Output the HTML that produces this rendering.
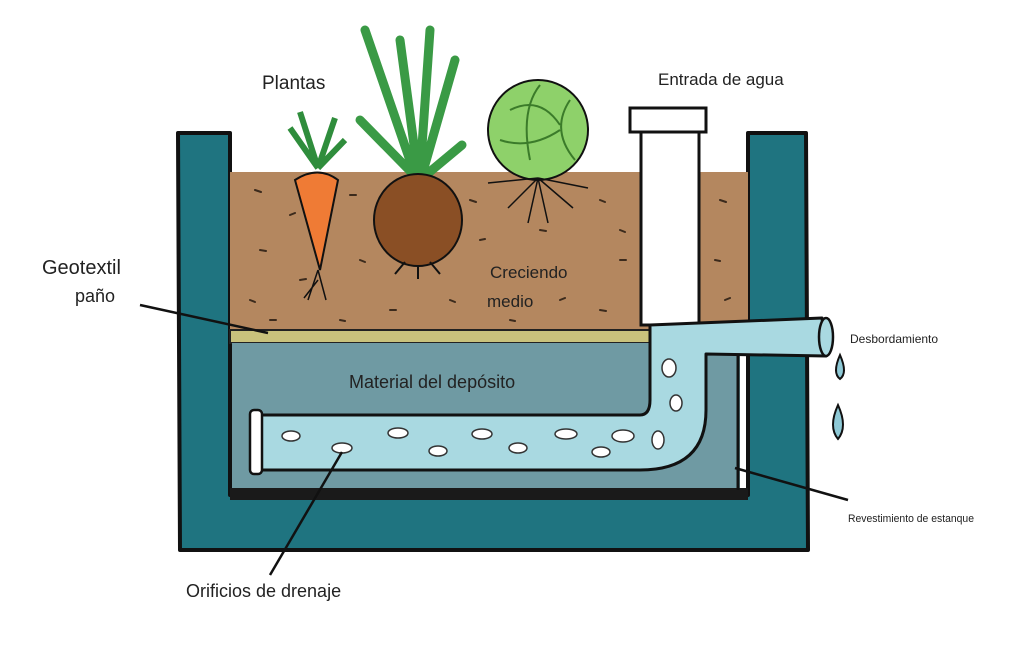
<!DOCTYPE html>
<html><head><meta charset="utf-8"><style>
html,body{margin:0;padding:0;background:#fff;}
svg{display:block;}
text{font-family:"Liberation Sans",sans-serif;fill:#222;}
</style></head><body>
<svg width="1024" height="660" viewBox="0 0 1024 660" xmlns="http://www.w3.org/2000/svg">
<rect width="1024" height="660" fill="#fff"/>
<!-- outer container -->
<path d="M178,133 L230,133 L230,495 L748,495 L748,133 L806,133 L808,550 L180,550 Z" fill="#1f7480" stroke="#111" stroke-width="4" stroke-linejoin="round"/>
<!-- soil -->
<rect x="230" y="172" width="518" height="162" fill="#b4875f"/>
<!-- geotextile -->
<rect x="230" y="330" width="420" height="13" fill="#c9c27c" stroke="#222" stroke-width="2"/>
<!-- reservoir -->
<rect x="232" y="343" width="508" height="145" fill="#6f9aa3"/>
<path d="M230,488 L748,488 L748,500 L230,500 Z" fill="#1a1a1a"/>
<path d="M738,343 L738,490" stroke="#111" stroke-width="3"/>
<!-- soil specks -->
<g stroke="#3b2a1c" stroke-width="2" stroke-linecap="round">
<path d="M255,190l6,2M290,215l5,-2M260,250l6,1M250,300l5,2M350,195l6,0M360,260l5,2M300,280l6,-1M470,200l6,2M480,240l5,-1M540,230l6,1M600,200l5,2M620,260l6,0M560,300l5,-2M600,310l6,1M450,300l5,2M390,310l6,0M340,320l5,1M720,200l6,2M715,260l5,1M725,300l5,-2M270,320l6,0M510,320l5,1M620,230l5,2"/>
</g>
<!-- inlet pipe -->
<rect x="641" y="120" width="58" height="205" fill="#fff" stroke="#111" stroke-width="3"/>
<rect x="630" y="108" width="76" height="24" fill="#fff" stroke="#111" stroke-width="3"/>
<!-- drain pipe -->
<path d="M258,415 L640,415 Q650,415 650,400 L650,325 L822,318 L826,356 L706,354 L706,410 Q706,470 640,470 L258,470 Z" fill="#a9d9e1" stroke="#111" stroke-width="3" stroke-linejoin="round"/>
<rect x="250" y="410" width="12" height="64" rx="4" fill="#fff" stroke="#111" stroke-width="2.5"/>
<ellipse cx="826" cy="337" rx="7" ry="19" fill="#a9d9e1" stroke="#111" stroke-width="2.5"/>
<g fill="#fff" stroke="#333" stroke-width="1.5">
<ellipse cx="291" cy="436" rx="9" ry="5"/><ellipse cx="342" cy="448" rx="10" ry="5"/><ellipse cx="398" cy="433" rx="10" ry="5"/><ellipse cx="438" cy="451" rx="9" ry="5"/><ellipse cx="482" cy="434" rx="10" ry="5"/><ellipse cx="518" cy="448" rx="9" ry="5"/><ellipse cx="566" cy="434" rx="11" ry="5"/><ellipse cx="601" cy="452" rx="9" ry="5"/><ellipse cx="623" cy="436" rx="11" ry="6"/><ellipse cx="658" cy="440" rx="6" ry="9"/><ellipse cx="676" cy="403" rx="6" ry="8"/><ellipse cx="669" cy="368" rx="7" ry="9"/>
</g>
<!-- drops -->
<g fill="#8ec9d6" stroke="#111" stroke-width="2">
<path d="M840,355 q-8,18 0,24 q8,-6 0,-24z"/><path d="M838,405 q-10,22 0,34 q10,-12 0,-34z"/>
</g>
<!-- carrot -->
<g stroke="#111" stroke-width="2">
<path d="M295,180 Q318,165 338,180 L320,270 Z" fill="#ef7b35"/>
<path d="M318,168 L290,128 M318,168 L300,112 M318,168 L335,118 M318,168 L345,140" stroke="#2f8d3c" stroke-width="6" fill="none"/>
<path d="M318,270 l-10,30 M318,270 l8,30 M318,280 l-14,18" fill="none" stroke-width="1.5"/>
</g>
<!-- onion -->
<g stroke="#111" stroke-width="2">
<path d="M415,175 L365,30 M418,175 L400,40 M420,175 L430,30 M422,175 L455,60 M414,175 L360,120 M426,175 L462,145" stroke="#3a9a45" stroke-width="9" fill="none" stroke-linecap="round"/>
<ellipse cx="418" cy="220" rx="44" ry="46" fill="#8a4f25"/>
<path d="M405,262 l-10,12 M418,265 l0,14 M430,262 l10,12" fill="none"/>
</g>
<!-- cabbage -->
<g stroke="#111" stroke-width="2">
<circle cx="538" cy="130" r="50" fill="#8ed16a"/>
<path d="M510,110 Q540,95 560,125 M500,140 Q530,150 560,130 M540,85 Q520,110 530,160 M570,100 Q550,130 575,160" fill="none" stroke="#3b7b2a"/>
<path d="M538,178 l-30,30 M538,178 l-10,45 M538,178 l10,45 M538,178 l35,30 M538,178 l50,10 M538,178 l-50,5" fill="none" stroke-width="1.5"/>
</g>
<!-- leader lines -->
<g stroke="#111" stroke-width="2.5" fill="none">
<line x1="140" y1="305" x2="268" y2="333"/>
<line x1="342" y1="452" x2="270" y2="575"/>
<line x1="735" y1="468" x2="848" y2="500"/>
</g>
<!-- labels -->
<text x="262" y="89" font-size="19">Plantas</text>
<text x="658" y="85" font-size="17">Entrada de agua</text>
<text x="42" y="274" font-size="20">Geotextil</text>
<text x="75" y="302" font-size="18">paño</text>
<text x="490" y="278" font-size="17">Creciendo</text>
<text x="487" y="307" font-size="17">medio</text>
<text x="349" y="388" font-size="18">Material del depósito</text>
<text x="850" y="343" font-size="12">Desbordamiento</text>
<text x="848" y="522" font-size="11" textLength="126" lengthAdjust="spacingAndGlyphs">Revestimiento de estanque</text>
<text x="186" y="597" font-size="18">Orificios de drenaje</text>
</svg>
</body></html>
